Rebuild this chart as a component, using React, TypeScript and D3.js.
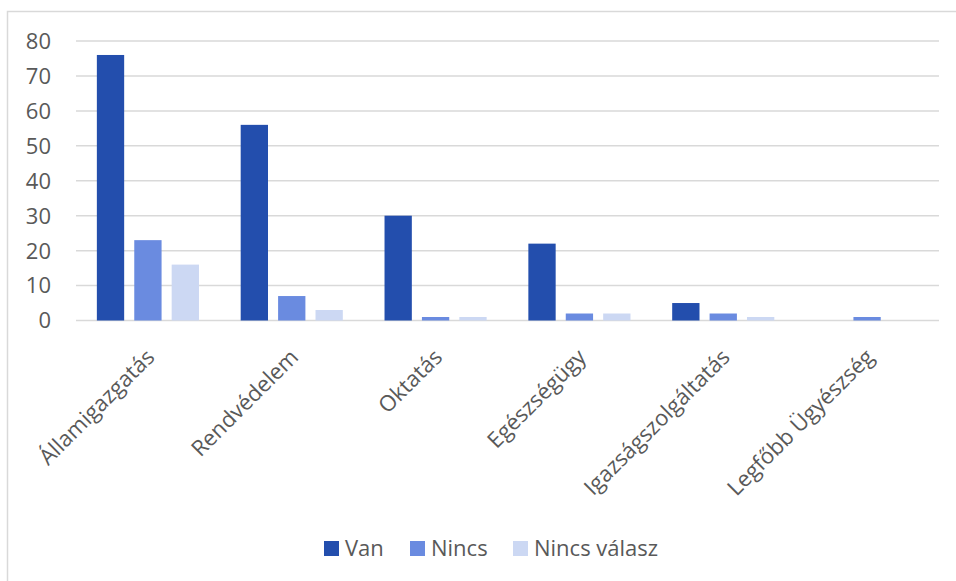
import React from "react";
import * as d3 from "d3";

const categories = ["Államigazgatás", "Rendvédelem", "Oktatás", "Egészségügy", "Igazságszolgáltatás", "Legfőbb Ügyészség"];
const seriesNames = ["Van", "Nincs", "Nincs válasz"];
const vanValues = [76, 56, 30, 22, 5, 0];
const nincsValues = [23, 7, 1, 2, 2, 1];
const nincsValaszValues = [16, 3, 1, 2, 1, 0];
const yTicks = [0, 10, 20, 30, 40, 50, 60, 70, 80];
const colors = ["#234ead", "#6a8be0", "#ccd8f3"];

const W = 956, H = 581;
const plotLeft = 76, plotRight = 939, plotTop = 41, plotBottom = 320.5;
const FONT = "'Open Sans', 'Noto Sans', sans-serif";
const TEXT = "#595959";
const FS = 22;

export default function App() {
  const series = [vanValues, nincsValues, nincsValaszValues];
  const x0 = d3.scaleBand<string>().domain(categories).range([plotLeft, plotRight]).paddingInner(0.29).paddingOuter(0.145);
  const x1 = d3.scaleBand<string>().domain(seriesNames).range([0, x0.bandwidth()]).paddingInner(0.27);
  const y = d3.scaleLinear().domain([0, 80]).range([plotBottom, plotTop]);

  const legendItems = [
    { name: "Van", x: 324 },
    { name: "Nincs", x: 410 },
    { name: "Nincs válasz", x: 513 },
  ];

  return (
    <svg width={W} height={H} style={{ position: "absolute", left: 0, top: 0, background: "#fff" }} fontFamily={FONT}>
      <rect x={0} y={0} width={W} height={H} fill="#fff" />
      <path d={`M7.5,${H + 5}V11.5H${W + 5}`} fill="none" stroke="#d9d9d9" strokeWidth={1.5} />
      {yTicks.map((t) => (
        <g key={t}>
          <line x1={plotLeft} x2={plotRight} y1={y(t)} y2={y(t)} stroke="#d9d9d9" strokeWidth={1.5} />
          <text x={51} y={y(t)} dy="0.36em" textAnchor="end" fontSize={FS} fill={TEXT}>{t}</text>
        </g>
      ))}
      {categories.map((c, i) => (
        <g key={c}>
          {series.map((vals, s) => (
            <rect
              key={s}
              x={(x0(c) as number) + (x1(seriesNames[s]) as number)}
              y={y(vals[i])}
              width={x1.bandwidth()}
              height={plotBottom - y(vals[i])}
              fill={colors[s]}
            />
          ))}
          <text
            transform={`translate(${(x0(c) as number) + x0.bandwidth() / 2 + 8},${plotBottom + 38}) rotate(-45)`}
            textAnchor="end"
            fontSize={FS}
            fill={TEXT}
          >
            {c}
          </text>
        </g>
      ))}
      {legendItems.map((it, i) => (
        <g key={it.name}>
          <rect x={it.x} y={541} width={15} height={15} fill={colors[i]} />
          <text x={it.x + 21} y={556} fontSize={FS} fill={TEXT}>{it.name}</text>
        </g>
      ))}
    </svg>
  );
}
